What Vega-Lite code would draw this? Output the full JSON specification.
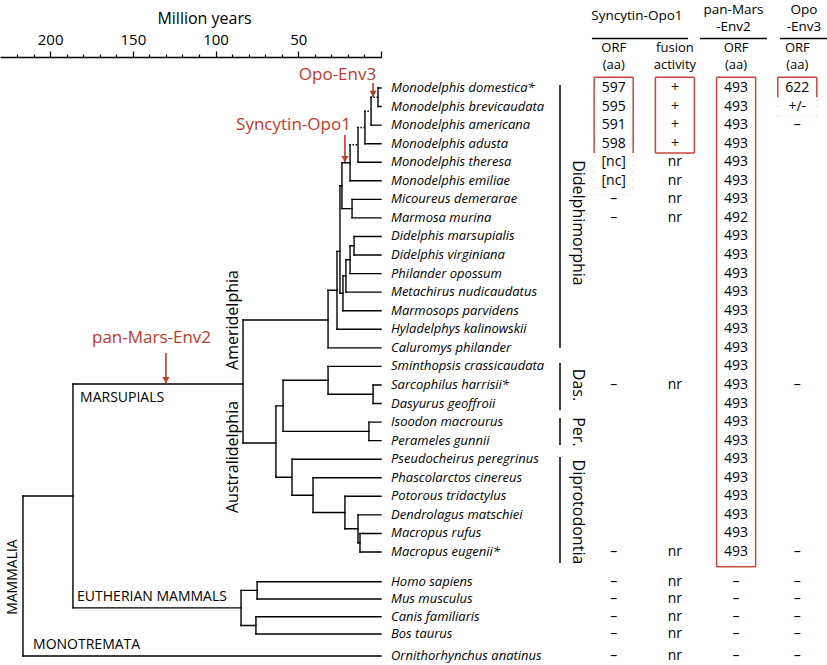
{
  "$schema": "https://vega.github.io/schema/vega-lite/v6.json",
  "width": 827,
  "height": 665,
  "padding": 0,
  "autosize": {"type": "none"},
  "background": "white",
  "config": {"view": {"stroke": null}, "axis": {"grid": false}, "text": {"font": "Open Sans"}},
  "datasets": {
    "branches": [
      {"start":1.8,"end":1.8,"rowA":1,"rowB":2,"kind":"branch"},
      {"start":6.0,"end":6.0,"rowA":1.5,"rowB":3,"kind":"branch"},
      {"start":9.7,"end":9.7,"rowA":2.25,"rowB":4,"kind":"branch"},
      {"start":13.9,"end":13.9,"rowA":3.125,"rowB":5,"kind":"branch"},
      {"start":18.7,"end":18.7,"rowA":4.06,"rowB":6,"kind":"branch"},
      {"start":17.5,"end":17.5,"rowA":7,"rowB":8,"kind":"branch"},
      {"start":23.6,"end":23.6,"rowA":5.03,"rowB":7.5,"kind":"branch"},
      {"start":16.3,"end":16.3,"rowA":9,"rowB":10,"kind":"branch"},
      {"start":18.7,"end":18.7,"rowA":9.5,"rowB":11,"kind":"branch"},
      {"start":21.2,"end":21.2,"rowA":10.25,"rowB":12,"kind":"branch"},
      {"start":23.0,"end":23.0,"rowA":11.125,"rowB":13,"kind":"branch"},
      {"start":24.8,"end":24.8,"rowA":6.27,"rowB":12.06,"kind":"branch"},
      {"start":26.6,"end":26.6,"rowA":9.8,"rowB":14,"kind":"branch"},
      {"start":32.0,"end":32.0,"rowA":11.9,"rowB":15,"kind":"branch"},
      {"start":4.8,"end":4.8,"rowA":17,"rowB":18,"kind":"branch"},
      {"start":32.0,"end":32.0,"rowA":16,"rowB":17.5,"kind":"branch"},
      {"start":7.3,"end":7.3,"rowA":19,"rowB":20,"kind":"branch"},
      {"start":59.2,"end":59.2,"rowA":16.75,"rowB":19.5,"kind":"branch"},
      {"start":12.7,"end":12.7,"rowA":25,"rowB":26,"kind":"branch"},
      {"start":13.9,"end":13.9,"rowA":24,"rowB":25.5,"kind":"branch"},
      {"start":21.8,"end":21.8,"rowA":23,"rowB":24.75,"kind":"branch"},
      {"start":41.1,"end":41.1,"rowA":22,"rowB":23.875,"kind":"branch"},
      {"start":53.8,"end":53.8,"rowA":21,"rowB":22.94,"kind":"branch"},
      {"start":63.5,"end":63.5,"rowA":18.125,"rowB":21.97,"kind":"branch"},
      {"start":83.4,"end":83.4,"rowA":13.5,"rowB":20.13,"kind":"branch"},
      {"start":74.9,"end":74.9,"rowA":27.6,"rowB":28.53,"kind":"branch"},
      {"start":75.6,"end":75.6,"rowA":29.49,"rowB":30.42,"kind":"branch"},
      {"start":84.6,"end":84.6,"rowA":28.07,"rowB":29.96,"kind":"branch"},
      {"start":186.2,"end":186.2,"rowA":16.95,"rowB":29.01,"kind":"branch"},
      {"start":216.4,"end":216.4,"rowA":22.98,"rowB":31.6,"kind":"branch"},
      {"start":6.0,"end":1.8,"rowA":1.5,"rowB":1.5,"kind":"uncertain"},
      {"start":9.7,"end":6.0,"rowA":2.25,"rowB":2.25,"kind":"uncertain"},
      {"start":13.9,"end":9.7,"rowA":3.125,"rowB":3.125,"kind":"uncertain"},
      {"start":18.7,"end":13.9,"rowA":4.06,"rowB":4.06,"kind":"uncertain"},
      {"start":23.6,"end":18.7,"rowA":5.03,"rowB":5.03,"kind":"branch"},
      {"start":23.6,"end":17.5,"rowA":7.5,"rowB":7.5,"kind":"branch"},
      {"start":24.8,"end":23.6,"rowA":6.27,"rowB":6.27,"kind":"branch"},
      {"start":18.7,"end":16.3,"rowA":9.5,"rowB":9.5,"kind":"branch"},
      {"start":21.2,"end":18.7,"rowA":10.25,"rowB":10.25,"kind":"branch"},
      {"start":23.0,"end":21.2,"rowA":11.125,"rowB":11.125,"kind":"branch"},
      {"start":24.8,"end":23.0,"rowA":12.06,"rowB":12.06,"kind":"branch"},
      {"start":26.6,"end":24.8,"rowA":9.8,"rowB":9.8,"kind":"branch"},
      {"start":32.0,"end":26.6,"rowA":11.9,"rowB":11.9,"kind":"branch"},
      {"start":83.4,"end":32.0,"rowA":13.5,"rowB":13.5,"kind":"branch"},
      {"start":32.0,"end":4.8,"rowA":17.5,"rowB":17.5,"kind":"branch"},
      {"start":59.2,"end":32.0,"rowA":16.75,"rowB":16.75,"kind":"branch"},
      {"start":59.2,"end":7.3,"rowA":19.5,"rowB":19.5,"kind":"branch"},
      {"start":63.5,"end":59.2,"rowA":18.125,"rowB":18.125,"kind":"branch"},
      {"start":13.9,"end":12.7,"rowA":25.5,"rowB":25.5,"kind":"branch"},
      {"start":21.8,"end":13.9,"rowA":24.75,"rowB":24.75,"kind":"branch"},
      {"start":41.1,"end":21.8,"rowA":23.875,"rowB":23.875,"kind":"branch"},
      {"start":53.8,"end":41.1,"rowA":22.94,"rowB":22.94,"kind":"branch"},
      {"start":63.5,"end":53.8,"rowA":21.97,"rowB":21.97,"kind":"branch"},
      {"start":83.4,"end":63.5,"rowA":20.13,"rowB":20.13,"kind":"branch"},
      {"start":186.2,"end":83.4,"rowA":16.95,"rowB":16.95,"kind":"branch"},
      {"start":84.6,"end":74.9,"rowA":28.07,"rowB":28.07,"kind":"branch"},
      {"start":84.6,"end":75.6,"rowA":29.96,"rowB":29.96,"kind":"branch"},
      {"start":186.2,"end":84.6,"rowA":29.01,"rowB":29.01,"kind":"branch"},
      {"start":216.4,"end":186.2,"rowA":22.98,"rowB":22.98,"kind":"branch"},
      {"start":1.8,"end":0,"rowA":1,"rowB":1,"kind":"branch"},
      {"start":1.8,"end":0,"rowA":2,"rowB":2,"kind":"branch"},
      {"start":6.0,"end":0,"rowA":3,"rowB":3,"kind":"branch"},
      {"start":9.7,"end":0,"rowA":4,"rowB":4,"kind":"branch"},
      {"start":13.9,"end":0,"rowA":5,"rowB":5,"kind":"branch"},
      {"start":18.7,"end":0,"rowA":6,"rowB":6,"kind":"branch"},
      {"start":17.5,"end":0,"rowA":7,"rowB":7,"kind":"branch"},
      {"start":17.5,"end":0,"rowA":8,"rowB":8,"kind":"branch"},
      {"start":16.3,"end":0,"rowA":9,"rowB":9,"kind":"branch"},
      {"start":16.3,"end":0,"rowA":10,"rowB":10,"kind":"branch"},
      {"start":18.7,"end":0,"rowA":11,"rowB":11,"kind":"branch"},
      {"start":21.2,"end":0,"rowA":12,"rowB":12,"kind":"branch"},
      {"start":23.0,"end":0,"rowA":13,"rowB":13,"kind":"branch"},
      {"start":26.6,"end":0,"rowA":14,"rowB":14,"kind":"branch"},
      {"start":32.0,"end":0,"rowA":15,"rowB":15,"kind":"branch"},
      {"start":32.0,"end":0,"rowA":16,"rowB":16,"kind":"branch"},
      {"start":4.8,"end":0,"rowA":17,"rowB":17,"kind":"branch"},
      {"start":4.8,"end":0,"rowA":18,"rowB":18,"kind":"branch"},
      {"start":7.3,"end":0,"rowA":19,"rowB":19,"kind":"branch"},
      {"start":7.3,"end":0,"rowA":20,"rowB":20,"kind":"branch"},
      {"start":53.8,"end":0,"rowA":21,"rowB":21,"kind":"branch"},
      {"start":41.1,"end":0,"rowA":22,"rowB":22,"kind":"branch"},
      {"start":21.8,"end":0,"rowA":23,"rowB":23,"kind":"branch"},
      {"start":13.9,"end":0,"rowA":24,"rowB":24,"kind":"branch"},
      {"start":12.7,"end":0,"rowA":25,"rowB":25,"kind":"branch"},
      {"start":12.7,"end":0,"rowA":26,"rowB":26,"kind":"branch"},
      {"start":74.9,"end":0,"rowA":27.6,"rowB":27.6,"kind":"branch"},
      {"start":74.9,"end":0,"rowA":28.53,"rowB":28.53,"kind":"branch"},
      {"start":75.6,"end":0,"rowA":29.49,"rowB":29.49,"kind":"branch"},
      {"start":75.6,"end":0,"rowA":30.42,"rowB":30.42,"kind":"branch"},
      {"start":216.4,"end":0,"rowA":31.6,"rowB":31.6,"kind":"branch"}
    ],
    "species": [
      {"name":"Monodelphis domestica*","row":1,"syn":"597","fus":"+","pan":"493","opo":"622"},
      {"name":"Monodelphis brevicaudata","row":2,"syn":"595","fus":"+","pan":"493","opo":"+/-"},
      {"name":"Monodelphis americana","row":3,"syn":"591","fus":"+","pan":"493","opo":"–"},
      {"name":"Monodelphis adusta","row":4,"syn":"598","fus":"+","pan":"493","opo":""},
      {"name":"Monodelphis theresa","row":5,"syn":"[nc]","fus":"nr","pan":"493","opo":""},
      {"name":"Monodelphis emiliae","row":6,"syn":"[nc]","fus":"nr","pan":"493","opo":""},
      {"name":"Micoureus demerarae","row":7,"syn":"–","fus":"nr","pan":"493","opo":""},
      {"name":"Marmosa murina","row":8,"syn":"–","fus":"nr","pan":"492","opo":""},
      {"name":"Didelphis marsupialis","row":9,"syn":"","fus":"","pan":"493","opo":""},
      {"name":"Didelphis virginiana","row":10,"syn":"","fus":"","pan":"493","opo":""},
      {"name":"Philander opossum","row":11,"syn":"","fus":"","pan":"493","opo":""},
      {"name":"Metachirus nudicaudatus","row":12,"syn":"","fus":"","pan":"493","opo":""},
      {"name":"Marmosops parvidens","row":13,"syn":"","fus":"","pan":"493","opo":""},
      {"name":"Hyladelphys kalinowskii","row":14,"syn":"","fus":"","pan":"493","opo":""},
      {"name":"Caluromys philander","row":15,"syn":"","fus":"","pan":"493","opo":""},
      {"name":"Sminthopsis crassicaudata","row":16,"syn":"","fus":"","pan":"493","opo":""},
      {"name":"Sarcophilus harrisii*","row":17,"syn":"–","fus":"nr","pan":"493","opo":"–"},
      {"name":"Dasyurus geoffroii","row":18,"syn":"","fus":"","pan":"493","opo":""},
      {"name":"Isoodon macrourus","row":19,"syn":"","fus":"","pan":"493","opo":""},
      {"name":"Perameles gunnii","row":20,"syn":"","fus":"","pan":"493","opo":""},
      {"name":"Pseudocheirus peregrinus","row":21,"syn":"","fus":"","pan":"493","opo":""},
      {"name":"Phascolarctos cinereus","row":22,"syn":"","fus":"","pan":"493","opo":""},
      {"name":"Potorous tridactylus","row":23,"syn":"","fus":"","pan":"493","opo":""},
      {"name":"Dendrolagus matschiei","row":24,"syn":"","fus":"","pan":"493","opo":""},
      {"name":"Macropus rufus","row":25,"syn":"","fus":"","pan":"493","opo":""},
      {"name":"Macropus eugenii*","row":26,"syn":"–","fus":"nr","pan":"493","opo":"–"},
      {"name":"Homo sapiens","row":27.6,"syn":"–","fus":"nr","pan":"–","opo":"–"},
      {"name":"Mus musculus","row":28.53,"syn":"–","fus":"nr","pan":"–","opo":"–"},
      {"name":"Canis familiaris","row":29.49,"syn":"–","fus":"nr","pan":"–","opo":"–"},
      {"name":"Bos taurus","row":30.42,"syn":"–","fus":"nr","pan":"–","opo":"–"},
      {"name":"Ornithorhynchus anatinus","row":31.6,"syn":"–","fus":"nr","pan":"–","opo":"–"}
    ],
    "events": [
      {"gene":"Opo-Env3","labelAge":26.3,"labelRow":0.3,"arrowAge":4.8,"arrowTop":0.73,"arrowTip":1.48},
      {"gene":"Syncytin-Opo1","labelAge":52.9,"labelRow":2.99,"arrowAge":21.8,"arrowTop":3.53,"arrowTip":4.99},
      {"gene":"pan-Mars-Env2","labelAge":138.7,"labelRow":14.47,"arrowAge":130.0,"arrowTop":15.28,"arrowTip":16.9}
    ],
    "groups": [
      {"name":"MARSUPIALS","age":181.9,"row":17.7},
      {"name":"EUTHERIAN MAMMALS","age":183.7,"row":28.42},
      {"name":"MONOTREMATA","age":210.3,"row":31.01}
    ],
    "cohorts": [
      {"name":"Ameridelphia","age":89.5,"row":13.5},
      {"name":"Australidelphia","age":89.5,"row":20.88}
    ],
    "clades": [
      {"name":"Didelphimorphia","top":0.84,"bottom":15.0,"mid":8.27},
      {"name":"Das.","top":15.82,"bottom":18.35,"mid":17.0},
      {"name":"Per.","top":18.78,"bottom":20.24,"mid":19.53},
      {"name":"Diprotodontia","top":20.88,"bottom":26.59,"mid":23.84}
    ],
    "geneHeads": [
      {"text":"Syncytin-Opo1","center":-154.7,"row":-2.88},
      {"text":"pan-Mars","center":-213.1,"row":-3.18},
      {"text":"-Env2","center":-213.1,"row":-2.31},
      {"text":"Opo","center":-255.7,"row":-3.18},
      {"text":"-Env3","center":-255.7,"row":-2.31}
    ],
    "geneSpans": [
      {"gene":"Syncytin-Opo1","start":-127.5,"end":-185.6},
      {"gene":"pan-Mars-Env2","start":-192.8,"end":-233.3},
      {"gene":"Opo-Env3","start":-241.2,"end":-269.6}
    ],
    "colHeads": [
      {"col":"syn","l1":"ORF","l2":"(aa)"},
      {"col":"fus","l1":"fusion","l2":"activity"},
      {"col":"pan","l1":"ORF","l2":"(aa)"},
      {"col":"opo","l1":"ORF","l2":"(aa)"}
    ],
    "boxSides": [
      {"col":"syn","from":0.42,"to":4.5,"line":"solid"},
      {"col":"syn","from":4.5,"to":6.76,"line":"dashed"},
      {"col":"fus","from":0.42,"to":4.5,"line":"solid"},
      {"col":"pan","from":0.42,"to":26.8,"line":"solid"},
      {"col":"opo","from":0.42,"to":1.5,"line":"solid"},
      {"col":"opo","from":1.5,"to":2.51,"line":"dashed"}
    ],
    "boxEdges": [
      {"col":"syn","at":0.42,"line":"solid"},
      {"col":"syn","at":6.76,"line":"dashed"},
      {"col":"fus","at":0.42,"line":"solid"},
      {"col":"fus","at":4.5,"line":"solid"},
      {"col":"pan","at":0.42,"line":"solid"},
      {"col":"pan","at":26.8,"line":"solid"},
      {"col":"opo","at":0.42,"line":"solid"},
      {"col":"opo","at":2.51,"line":"dashed"}
    ]
  },
  "resolve": {"scale": {"x": "independent"}, "axis": {"x": "independent"}},
  "layer": [
    {
      "data": {"name": "branches"},
      "mark": {"type": "rule", "color": "black", "strokeWidth": 1.4, "strokeCap": "square"},
      "encoding": {
        "x": {"field": "start", "type": "quantitative",
          "scale": {"domain": [0, 230.3], "range": [381, 0], "nice": false, "zero": false},
          "axis": {"orient": "top", "offset": -57, "values": [0,10,20,30,40,50,60,70,80,90,100,110,120,130,140,150,160,170,180,190,200,210,220],
            "domain": true, "domainColor": "black", "domainWidth": 1.3,
            "ticks": true, "tickColor": "black", "tickWidth": 1.2,
            "tickSize": {"condition": {"test": "datum.value % 50 === 0", "value": 6}, "value": 3},
            "labelExpr": "datum.value % 50 === 0 && datum.value > 0 ? datum.label : ''",
            "labelFont": "Open Sans", "labelFontSize": 15, "labelColor": "black", "labelPadding": 4,
            "labelOverlap": false, "labelFlush": false,
            "title": "Million years", "titleFont": "Open Sans", "titleFontSize": 16, "titleFontWeight": "normal",
            "titleColor": "black", "titlePadding": 6, "titleX": 204}},
        "x2": {"field": "end"},
        "y": {"field": "rowA", "type": "quantitative", "scale": {"domain": [-3.741, 32.088], "range": [0, 665], "nice": false, "zero": false}, "axis": null},
        "y2": {"field": "rowB"},
        "strokeDash": {"field": "kind", "type": "nominal", "scale": {"domain": ["branch", "uncertain"], "range": [[1, 0], [0.1, 3]]}, "legend": null}
      }
    },
    {
      "data": {"name": "species"},
      "mark": {"type": "text", "align": "left", "baseline": "middle", "dx": 10, "font": "Open Sans", "fontSize": 13, "fontStyle": "italic", "color": "black"},
      "encoding": {
        "x": {"datum": 0, "type": "quantitative", "scale": {"domain": [0, 230.3], "range": [381, 0], "nice": false, "zero": false}, "axis": null},
        "y": {"field": "row", "type": "quantitative", "scale": {"domain": [-3.741, 32.088], "range": [0, 665], "nice": false, "zero": false}, "axis": null},
        "text": {"field": "name"}
      }
    },
    {
      "data": {"name": "events"},
      "mark": {"type": "text", "align": "center", "baseline": "middle", "font": "Open Sans", "fontSize": 17, "color": "#c1392b"},
      "encoding": {
        "x": {"field": "labelAge", "type": "quantitative", "scale": {"domain": [0, 230.3], "range": [381, 0], "nice": false, "zero": false}, "axis": null},
        "y": {"field": "labelRow", "type": "quantitative", "scale": {"domain": [-3.741, 32.088], "range": [0, 665], "nice": false, "zero": false}, "axis": null},
        "text": {"field": "gene"}
      }
    },
    {
      "data": {"name": "events"},
      "mark": {"type": "rule", "color": "#c1392b", "strokeWidth": 1.6},
      "encoding": {
        "x": {"field": "arrowAge", "type": "quantitative", "scale": {"domain": [0, 230.3], "range": [381, 0], "nice": false, "zero": false}, "axis": null},
        "y": {"field": "arrowTop", "type": "quantitative", "scale": {"domain": [-3.741, 32.088], "range": [0, 665], "nice": false, "zero": false}, "axis": null},
        "y2": {"field": "arrowTip"}
      }
    },
    {
      "data": {"name": "events"},
      "mark": {"type": "point", "shape": "triangle-down", "filled": true, "color": "#c1392b", "size": 50, "opacity": 1, "yOffset": -3},
      "encoding": {
        "x": {"field": "arrowAge", "type": "quantitative", "scale": {"domain": [0, 230.3], "range": [381, 0], "nice": false, "zero": false}, "axis": null},
        "y": {"field": "arrowTip", "type": "quantitative", "scale": {"domain": [-3.741, 32.088], "range": [0, 665], "nice": false, "zero": false}, "axis": null}
      }
    },
    {
      "data": {"name": "groups"},
      "mark": {"type": "text", "align": "left", "baseline": "middle", "font": "Open Sans", "fontSize": 14, "color": "black"},
      "encoding": {
        "x": {"field": "age", "type": "quantitative", "scale": {"domain": [0, 230.3], "range": [381, 0], "nice": false, "zero": false}, "axis": null},
        "y": {"field": "row", "type": "quantitative", "scale": {"domain": [-3.741, 32.088], "range": [0, 665], "nice": false, "zero": false}, "axis": null},
        "text": {"field": "name"}
      }
    },
    {
      "data": {"name": "cohorts"},
      "mark": {"type": "text", "align": "center", "baseline": "middle", "angle": 270, "font": "Open Sans", "fontSize": 16, "color": "black"},
      "encoding": {
        "x": {"field": "age", "type": "quantitative", "scale": {"domain": [0, 230.3], "range": [381, 0], "nice": false, "zero": false}, "axis": null},
        "y": {"field": "row", "type": "quantitative", "scale": {"domain": [-3.741, 32.088], "range": [0, 665], "nice": false, "zero": false}, "axis": null},
        "text": {"field": "name"}
      }
    },
    {
      "data": {"values": [{"name": "MAMMALIA"}]},
      "mark": {"type": "text", "align": "center", "baseline": "middle", "angle": 270, "font": "Open Sans", "fontSize": 14, "color": "black"},
      "encoding": {
        "x": {"datum": 222.4, "type": "quantitative", "scale": {"domain": [0, 230.3], "range": [381, 0], "nice": false, "zero": false}, "axis": null},
        "y": {"datum": 27.35, "type": "quantitative", "scale": {"domain": [-3.741, 32.088], "range": [0, 665], "nice": false, "zero": false}, "axis": null},
        "text": {"field": "name"}
      }
    },
    {
      "data": {"name": "clades"},
      "mark": {"type": "rule", "color": "black", "strokeWidth": 1.5},
      "encoding": {
        "x": {"datum": -108.2, "type": "quantitative", "scale": {"domain": [0, 230.3], "range": [381, 0], "nice": false, "zero": false}, "axis": null},
        "y": {"field": "top", "type": "quantitative", "scale": {"domain": [-3.741, 32.088], "range": [0, 665], "nice": false, "zero": false}, "axis": null},
        "y2": {"field": "bottom"}
      }
    },
    {
      "data": {"name": "clades"},
      "mark": {"type": "text", "align": "center", "baseline": "middle", "angle": 90, "font": "Open Sans", "fontSize": 16, "color": "black"},
      "encoding": {
        "x": {"datum": -119.1, "type": "quantitative", "scale": {"domain": [0, 230.3], "range": [381, 0], "nice": false, "zero": false}, "axis": null},
        "y": {"field": "mid", "type": "quantitative", "scale": {"domain": [-3.741, 32.088], "range": [0, 665], "nice": false, "zero": false}, "axis": null},
        "text": {"field": "name"}
      }
    },
    {
      "data": {"name": "geneHeads"},
      "mark": {"type": "text", "align": "center", "baseline": "middle", "font": "Open Sans", "fontSize": 13.5, "color": "black"},
      "encoding": {
        "x": {"field": "center", "type": "quantitative", "scale": {"domain": [0, 230.3], "range": [381, 0], "nice": false, "zero": false}, "axis": null},
        "y": {"field": "row", "type": "quantitative", "scale": {"domain": [-3.741, 32.088], "range": [0, 665], "nice": false, "zero": false}, "axis": null},
        "text": {"field": "text"}
      }
    },
    {
      "data": {"name": "geneSpans"},
      "mark": {"type": "rule", "color": "black", "strokeWidth": 1.5},
      "encoding": {
        "x": {"field": "start", "type": "quantitative", "scale": {"domain": [0, 230.3], "range": [381, 0], "nice": false, "zero": false}, "axis": null},
        "x2": {"field": "end"},
        "y": {"datum": -1.67, "type": "quantitative", "scale": {"domain": [-3.741, 32.088], "range": [0, 665], "nice": false, "zero": false}, "axis": null}
      }
    },
    {
      "data": {"name": "species"},
      "transform": [
        {"fold": ["syn", "fus", "pan", "opo"], "as": ["col", "val"]},
        {"filter": "datum.val !== ''"}
      ],
      "mark": {"type": "text", "align": "center", "baseline": "middle", "font": "Open Sans", "fontSize": 14, "color": "black"},
      "encoding": {
        "x": {"field": "col", "type": "nominal", "scale": {"type": "point", "domain": ["syn", "fus", "pan", "opo"], "range": [613.7, 797.3], "padding": 0}, "axis": null},
        "y": {"field": "row", "type": "quantitative", "scale": {"domain": [-3.741, 32.088], "range": [0, 665], "nice": false, "zero": false}, "axis": null},
        "text": {"field": "val"}
      }
    },
    {
      "data": {"name": "colHeads"},
      "mark": {"type": "text", "align": "center", "baseline": "middle", "font": "Open Sans", "fontSize": 13, "color": "black"},
      "encoding": {
        "x": {"field": "col", "type": "nominal", "scale": {"type": "point", "domain": ["syn", "fus", "pan", "opo"], "range": [613.7, 797.3], "padding": 0}, "axis": null},
        "y": {"datum": -1.13, "type": "quantitative", "scale": {"domain": [-3.741, 32.088], "range": [0, 665], "nice": false, "zero": false}, "axis": null},
        "text": {"field": "l1"}
      }
    },
    {
      "data": {"name": "colHeads"},
      "mark": {"type": "text", "align": "center", "baseline": "middle", "font": "Open Sans", "fontSize": 13, "color": "black"},
      "encoding": {
        "x": {"field": "col", "type": "nominal", "scale": {"type": "point", "domain": ["syn", "fus", "pan", "opo"], "range": [613.7, 797.3], "padding": 0}, "axis": null},
        "y": {"datum": -0.24, "type": "quantitative", "scale": {"domain": [-3.741, 32.088], "range": [0, 665], "nice": false, "zero": false}, "axis": null},
        "text": {"field": "l2"}
      }
    },
    {
      "data": {"name": "boxSides"},
      "mark": {"type": "rule", "color": "#c8453b", "strokeWidth": 1.5, "xOffset": -19.5},
      "encoding": {
        "x": {"field": "col", "type": "nominal", "scale": {"type": "point", "domain": ["syn", "fus", "pan", "opo"], "range": [613.7, 797.3], "padding": 0}, "axis": null},
        "y": {"field": "from", "type": "quantitative", "scale": {"domain": [-3.741, 32.088], "range": [0, 665], "nice": false, "zero": false}, "axis": null},
        "y2": {"field": "to"},
        "strokeDash": {"field": "line", "type": "nominal", "scale": {"domain": ["solid", "dashed"], "range": [[1, 0], [5, 3]]}, "legend": null}
      }
    },
    {
      "data": {"name": "boxSides"},
      "mark": {"type": "rule", "color": "#c8453b", "strokeWidth": 1.5, "xOffset": 19.5},
      "encoding": {
        "x": {"field": "col", "type": "nominal", "scale": {"type": "point", "domain": ["syn", "fus", "pan", "opo"], "range": [613.7, 797.3], "padding": 0}, "axis": null},
        "y": {"field": "from", "type": "quantitative", "scale": {"domain": [-3.741, 32.088], "range": [0, 665], "nice": false, "zero": false}, "axis": null},
        "y2": {"field": "to"},
        "strokeDash": {"field": "line", "type": "nominal", "scale": {"domain": ["solid", "dashed"], "range": [[1, 0], [5, 3]]}, "legend": null}
      }
    },
    {
      "data": {"name": "boxEdges"},
      "mark": {"type": "rule", "color": "#c8453b", "strokeWidth": 1.5, "xOffset": -19.5, "x2Offset": 19.5},
      "encoding": {
        "x": {"field": "col", "type": "nominal", "scale": {"type": "point", "domain": ["syn", "fus", "pan", "opo"], "range": [613.7, 797.3], "padding": 0}, "axis": null},
        "x2": {"field": "col"},
        "y": {"field": "at", "type": "quantitative", "scale": {"domain": [-3.741, 32.088], "range": [0, 665], "nice": false, "zero": false}, "axis": null},
        "strokeDash": {"field": "line", "type": "nominal", "scale": {"domain": ["solid", "dashed"], "range": [[1, 0], [5, 3]]}, "legend": null}
      }
    }
  ]
}
